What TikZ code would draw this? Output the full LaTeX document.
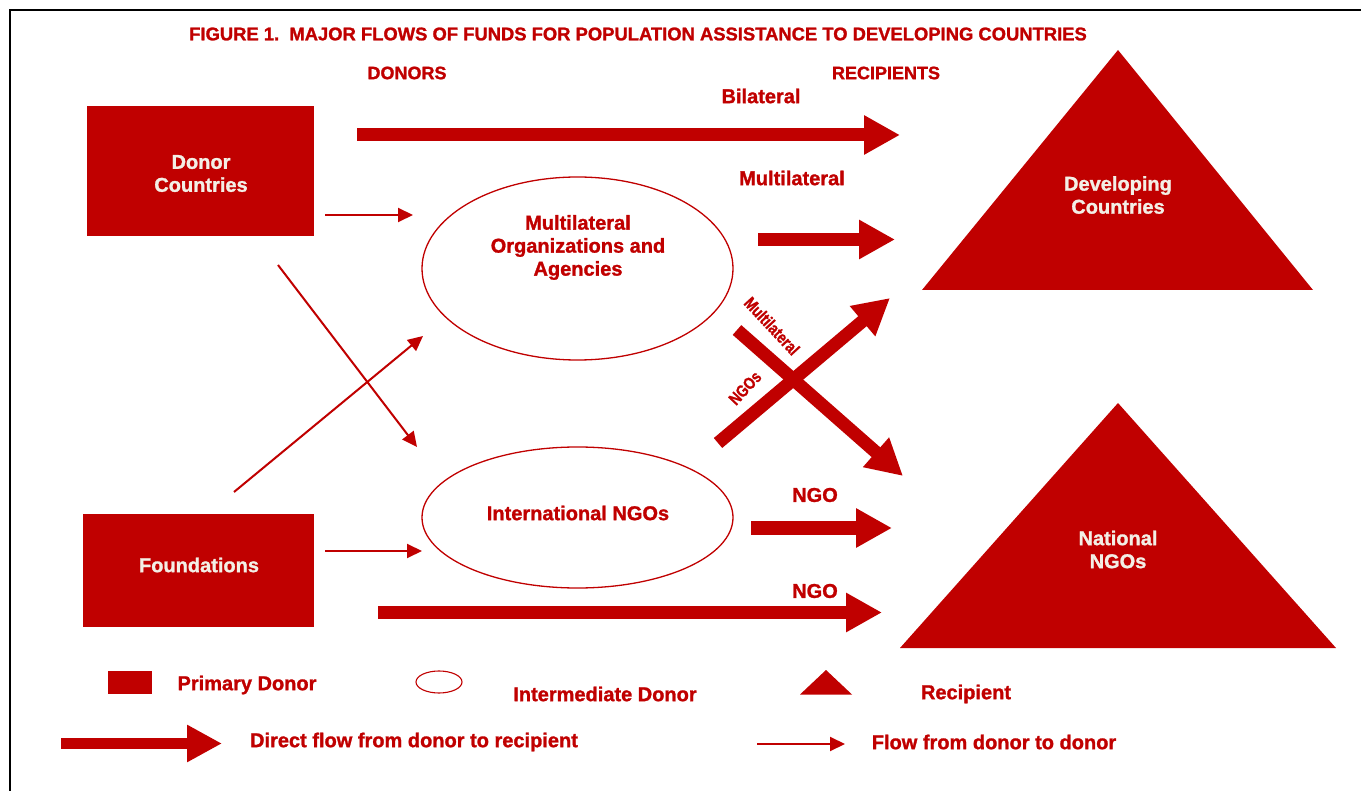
\documentclass[tikz,border=0pt]{standalone}
\usepackage{fontspec}
\setmainfont{Liberation Sans}
\newfontfamily\impact{Liberation Sans Bold}[FakeBold=1.3]
\usetikzlibrary{arrows.meta,shapes.geometric}
\definecolor{fr}{HTML}{C00000}
\definecolor{cream}{HTML}{F3EFE6}
\begin{document}
\begin{tikzpicture}[x=1pt,y=-1pt,
  lbl/.style={text=fr,font=\impact\fontsize{20}{23}\selectfont,inner sep=0pt,align=center},
  boxlbl/.style={text=cream,font=\impact\fontsize{20}{23}\selectfont,inner sep=0pt,align=center},
  donorbox/.style={fill=fr,draw=none,rectangle,inner sep=0pt},
  interm/.style={draw=fr,line width=1.3pt,ellipse,inner sep=0pt},
  recip/.style={fill=fr,draw=none},
  bigflow/.style={fr,line width=13pt,-{Triangle[length=36pt,width=37pt]}},
  smallflow/.style={fr,line width=2pt,-{Triangle[length=15pt,width=14pt]}}
]
\useasboundingbox (0,0) rectangle (1361,791);
% frame
\draw[black,line width=2.2pt] (10,791) -- (10,10) -- (1361,10);

% titles
\node[lbl,font=\impact\fontsize{18.4}{20}\selectfont] (title) at (638,34) {FIGURE 1.\ \ MAJOR FLOWS OF FUNDS FOR POPULATION ASSISTANCE TO DEVELOPING COUNTRIES};
\node[lbl,font=\impact\fontsize{18}{20}\selectfont] (donors) at (407,73) {DONORS};
\node[lbl,font=\impact\fontsize{18}{20}\selectfont] (recips) at (886,73) {RECIPIENTS};

% primary donors
\node[donorbox,minimum width=227pt,minimum height=130pt] (dc) at (200.5,171) {};
\node[boxlbl] (dctext) at (201,173.5) {Donor\\Countries};
\node[donorbox,minimum width=231pt,minimum height=113pt] (fd) at (198.5,570.5) {};
\node[boxlbl] (fdtext) at (199,565) {Foundations};

% intermediate donors
\node[interm,minimum width=311pt,minimum height=183pt] (mo) at (577.5,268.5) {};
\node[lbl] (motext) at (578,247.5) {Multilateral\\Organizations and\\Agencies};
\node[interm,minimum width=311pt,minimum height=141pt] (ngo) at (577.5,517.5) {};
\node[lbl] (ngotext) at (578,513) {International NGOs};

% recipients
\fill[recip] (1118,50) -- (1313,290) -- (922,290) -- cycle;
\node[boxlbl] (devc) at (1118,195) {Developing\\Countries};
\fill[recip] (1118,403) -- (1336,648) -- (900,648) -- cycle;
\node[boxlbl] (nngo) at (1118,549.5) {National\\NGOs};

% coordinates for big flows
\coordinate (b1s) at (357,135); \coordinate (b1e) at (900,135);
\coordinate (b2s) at (758,239.5); \coordinate (b2e) at (895,239.5);
\coordinate (b3s) at (718,443); \coordinate (b3e) at (890,298);
\coordinate (b4s) at (737,330); \coordinate (b4e) at (903,476);
\coordinate (b5s) at (751,528); \coordinate (b5e) at (892,528);
\coordinate (b6s) at (378,612.5); \coordinate (b6e) at (882,612.5);

\draw[bigflow] (b1s) -- (b1e);
\draw[bigflow] (b2s) -- (b2e);
\draw[bigflow] (b3s) -- (b3e);
\draw[bigflow] (b4s) -- (b4e);
\draw[bigflow] (b5s) -- (b5e);
\draw[bigflow] (b6s) -- (b6e);

\node[lbl] (l1) at (761,96) {Bilateral};
\node[lbl] (l2) at (792,178) {Multilateral};
\node[lbl] (l5) at (815,495) {NGO};
\node[lbl] (l6) at (815,591) {NGO};
\node[lbl,font=\impact\fontsize{17}{20}\selectfont,rotate=-47,xscale=0.8] (l4) at (772,326) {Multilateral};
\node[lbl,font=\impact\fontsize{17}{20}\selectfont,rotate=47,xscale=0.8] (l3) at (745,388) {NGOs};

% small flows
\coordinate (s1s) at (325,215); \coordinate (s1e) at (413,215);
\coordinate (s2s) at (278,265); \coordinate (s2e) at (417,447);
\coordinate (s3s) at (234,492); \coordinate (s3e) at (423,336);
\coordinate (s4s) at (325,551); \coordinate (s4e) at (422,551);
\draw[smallflow] (s1s) -- (s1e);
\draw[smallflow] (s2s) -- (s2e);
\draw[smallflow] (s3s) -- (s3e);
\draw[smallflow] (s4s) -- (s4e);

% legend
\node[donorbox,minimum width=44pt,minimum height=23pt] (lgbox) at (130,682.5) {};
\node[lbl] (lgboxt) at (247,685) {Primary Donor};
\node[interm,line width=1.1pt,minimum width=46pt,minimum height=22pt] (lgell) at (439,682) {};
\node[lbl] (lgellt) at (605,694) {Intermediate Donor};
\fill[recip] (826,670) -- (852,694.5) -- (800,694.5) -- cycle;
\node[lbl] (lgtrit) at (966,694) {Recipient};
\coordinate (lgas) at (61,743.5); \coordinate (lgae) at (222,743.5);
\draw[fr,line width=11pt,-{Triangle[length=35pt,width=35pt]}] (lgas) -- (lgae);
\node[lbl] (lgat) at (414,742) {Direct flow from donor to recipient};
\coordinate (lgbs) at (757,744); \coordinate (lgbe) at (845,744);
\draw[smallflow] (lgbs) -- (lgbe);
\node[lbl] (lgbt) at (994,742) {Flow from donor to donor};
\end{tikzpicture}
\end{document}
